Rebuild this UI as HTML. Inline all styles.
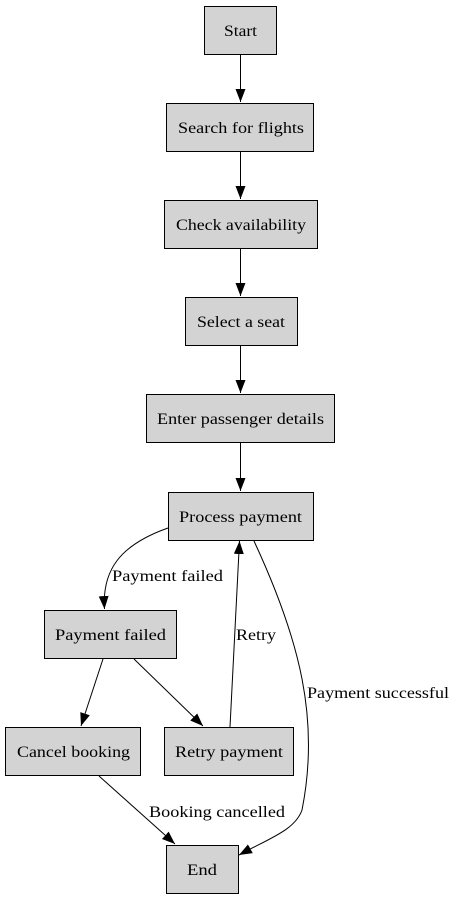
<!DOCTYPE html>
<html><head><style>body{margin:0;background:#fff}svg{display:block}</style></head><body>
<svg width="456" height="899" viewBox="0 0 456 899" xmlns="http://www.w3.org/2000/svg" font-family="Liberation Serif, serif" font-size="15.5">
<defs><marker id="a" markerWidth="14" markerHeight="12" refX="13" refY="6" orient="auto" markerUnits="userSpaceOnUse"><path d="M0,1 L13,6 L0,11 z" fill="#000"/></marker></defs>
<g fill="#d3d3d3" stroke="#000" stroke-width="1">
<rect x="204.5" y="6.5" width="72" height="48"/>
<rect x="166.5" y="103.5" width="147" height="48"/>
<rect x="164.5" y="200.5" width="153" height="48"/>
<rect x="185.5" y="297.5" width="112" height="48"/>
<rect x="146.5" y="394.5" width="188" height="48"/>
<rect x="168.5" y="492.5" width="145" height="48"/>
<rect x="44.5" y="610.5" width="132" height="48"/>
<rect x="5.5" y="727.5" width="135" height="48"/>
<rect x="164.5" y="727.5" width="129" height="48"/>
<rect x="166.5" y="845.5" width="72" height="48"/>
</g>
<g fill="none" stroke="#000" stroke-width="1" marker-end="url(#a)">
<path d="M240.5 55 V102"/>
<path d="M240.5 152 V199"/>
<path d="M240.5 249 V296"/>
<path d="M240.5 346 V393"/>
<path d="M240.5 443 V491"/>
<path d="M168 528 C120 545 102 570 104.5 609"/>
<path d="M103 659 L81 726"/>
<path d="M134 659 L203 726"/>
<path d="M230 727 L239.5 541"/>
<path d="M254 541 C300 640 320 720 302 810 C295 830 270 838 239 855"/>
<path d="M99 776 L175 844"/>
</g>
<g lengthAdjust="spacingAndGlyphs">
<text x="224" y="36" textLength="33" lengthAdjust="spacingAndGlyphs">Start</text>
<text x="178" y="133" textLength="126" lengthAdjust="spacingAndGlyphs">Search for flights</text>
<text x="176" y="230" textLength="130" lengthAdjust="spacingAndGlyphs">Check availability</text>
<text x="197" y="327" textLength="88" lengthAdjust="spacingAndGlyphs">Select a seat</text>
<text x="157" y="424" textLength="167" lengthAdjust="spacingAndGlyphs">Enter passenger details</text>
<text x="179" y="522" textLength="123" lengthAdjust="spacingAndGlyphs">Process payment</text>
<text x="55" y="640" textLength="111" lengthAdjust="spacingAndGlyphs">Payment failed</text>
<text x="17" y="757" textLength="113" lengthAdjust="spacingAndGlyphs">Cancel booking</text>
<text x="175" y="757" textLength="108" lengthAdjust="spacingAndGlyphs">Retry payment</text>
<text x="187" y="875" textLength="30" lengthAdjust="spacingAndGlyphs">End</text>
<text x="112" y="581" textLength="111" lengthAdjust="spacingAndGlyphs">Payment failed</text>
<text x="236" y="640" textLength="40" lengthAdjust="spacingAndGlyphs">Retry</text>
<text x="307" y="698" textLength="142" lengthAdjust="spacingAndGlyphs">Payment successful</text>
<text x="149" y="817" textLength="136" lengthAdjust="spacingAndGlyphs">Booking cancelled</text>
</g>
</svg>
</body></html>
